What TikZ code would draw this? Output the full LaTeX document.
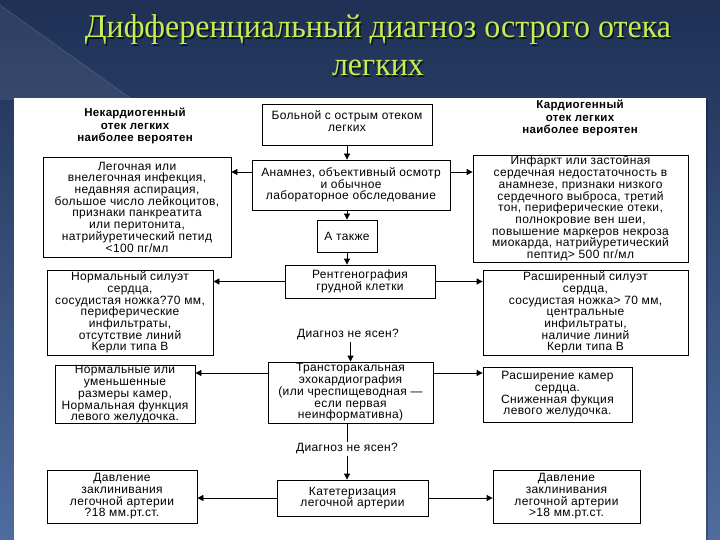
\documentclass[tikz,border=0pt]{standalone}
\usepackage{fontspec}
\usepackage{graphicx}
\setmainfont{Liberation Sans}
\newfontfamily\boxfont[LetterSpace=3]{Liberation Sans}
\newfontfamily\titlefont{Liberation Serif}
\usetikzlibrary{arrows.meta,calc}
\newcommand\boxtxt{\boxfont\fontsize{12}{11.7}\selectfont}
\newcommand\hdrtxt{\boxfont\bfseries\fontsize{11.5}{12.5}\selectfont}
\newcommand\ttltxt{\titlefont\fontsize{33}{36}\selectfont}
\definecolor{bgtop}{RGB}{30,48,84}
\definecolor{bgbot}{RGB}{78,108,158}
\definecolor{ttlgreen}{RGB}{200,236,84}
\definecolor{ttlshadow}{RGB}{10,20,30}
\begin{document}
\begin{tikzpicture}[x=1pt,y=-1pt,
  box/.style={draw=black, line width=0.8pt, align=center, inner sep=0pt, font=\boxtxt, fill=white},
  arr/.style={line width=0.8pt, -{Triangle[length=6pt,width=6pt]}},
  ln/.style={line width=0.8pt},
  hdr/.style={align=center, font=\hdrtxt, inner sep=0pt},
  lbl/.style={font=\boxtxt, inner sep=1pt, fill=white},
  ttl/.style={font=\ttltxt, inner sep=0pt}]
\useasboundingbox (0,0) rectangle (720,540);
% background
\shade[top color=bgtop, bottom color=bgbot] (0,0) rectangle (720,540);
\fill[white, opacity=0.07] (0,5) -- (133,100) -- (0,100) -- cycle;
\draw[white, opacity=0.15, line width=0.6pt] (0,5) -- (133,100);
% panel
\fill[black, opacity=0.25] (16,100) rectangle (708,540);
\fill[white] (14,98) rectangle (706,540);
% title
\node[ttl, text=ttlshadow] at (379.5,31.5) {\scalebox{0.97}[1]{Дифференциальный диагноз острого отека}};
\node[ttl, text=ttlgreen] (t1) at (378,30) {\scalebox{0.97}[1]{Дифференциальный диагноз острого отека}};
\node[ttl, text=ttlshadow] at (379.5,69.5) {\scalebox{0.97}[1]{легких}};
\node[ttl, text=ttlgreen] (t2) at (378,68) {\scalebox{0.97}[1]{легких}};
% headers
\node[hdr] (hL) at (135,126) {Некардиогенный\\отек легких\\наиболее вероятен};
\node[hdr] (hR) at (580,118) {Кардиогенный\\отек легких\\наиболее вероятен};
% center column
\node[box, minimum width=170, minimum height=41] (top) at (347,124.5) {Больной с острым отеком\\легких\\[-5pt]\mbox{}};
\node[box, minimum width=198, minimum height=50] (anam) at (351,185) {Анамнез, объективный осмотр\\и обычное\\лабораторное обследование};
\node[box, minimum width=60, minimum height=32] (also) at (347,236) {А также};
\node[box, minimum width=150, minimum height=33] (xray) at (360,281.5) {Рентгенография\\грудной клетки};
\node[lbl] (q1) at (348,335) {Диагноз не ясен?};
\node[box, minimum width=165, minimum height=61] (echo) at (350.5,392.5) {Трансторакальная\\эхокардиография\\(или чреспищеводная —\\если первая\\неинформативна)};
\node[lbl] (q2) at (347,449) {Диагноз не ясен?};
\node[box, minimum width=151, minimum height=36] (cath) at (352.5,498) {Катетеризация\\легочной артерии};
% left column
\node[box, minimum width=188, minimum height=100] (lA) at (137,207) {Легочная или\\внелегочная инфекция,\\недавняя аспирация,\\большое число лейкоцитов,\\признаки панкреатита\\или перитонита,\\натрийуретический петид\\<100 пг/мл};
\node[box, minimum width=166, minimum height=85] (lB) at (130,312.5) {Нормальный силуэт\\сердца,\\сосудистая ножка?70 мм,\\периферические\\инфильтраты,\\отсутствие линий\\Керли типа B};
\node[box, minimum width=140, minimum height=55] (lC) at (125,394.5) {Нормальные или\\уменьшенные\\размеры камер,\\Нормальная функция\\левого желудочка.};
\node[box, minimum width=150, minimum height=53] (lD) at (122,496.5) {Давление\\заклинивания\\легочной артерии\\?18 мм.рт.ст.};
% right column
\node[box, minimum width=215, minimum height=107] (rA) at (580.5,208.5) {Инфаркт или застойная\\сердечная недостаточность в\\анамнезе, признаки низкого\\сердечного выброса, третий\\тон, периферические отеки,\\полнокровие вен шеи,\\повышение маркеров некроза\\миокарда, натрийуретический\\пептид> 500 пг/мл};
\node[box, minimum width=205, minimum height=85] (rB) at (585.5,312.5) {Расширенный силуэт\\сердца,\\сосудистая ножка> 70 мм,\\центральные\\инфильтраты,\\наличие линий\\Керли типа B};
\node[box, minimum width=149, minimum height=55] (rC) at (557.5,394.5) {Расширение камер\\сердца.\\Сниженная фукция\\левого желудочка.};
\node[box, minimum width=147, minimum height=53] (rD) at (566.5,496.5) {Давление\\заклинивания\\легочной артерии\\>18 мм.рт.ст.};
% connectors
\draw[arr] (top.south) -- (top.south |- anam.north);
\draw[arr] (also.north |- anam.south) -- (also.north);
\draw[arr] (also.south) -- (also.south |- xray.north);
\draw[arr] (anam.west |- 0,172) -- (lA.east |- 0,172);
\draw[arr] (anam.east |- 0,172) -- (rA.west |- 0,172);
\draw[arr] (xray.west) -- (lB.east |- xray.west);
\draw[arr] (xray.east) -- (rB.west |- xray.east);
\draw[arr] (q1.south -| echo.north) -- (echo.north);
\draw[arr] (echo.west |- 0,373) -- (lC.east |- 0,373);
\draw[arr] (echo.east |- 0,373) -- (rC.west |- 0,373);
\draw[ln] (q2.north |- echo.south) -- (q2.north);
\draw[arr] (q2.south) -- (q2.south |- cath.north);
\draw[arr] (cath.west) -- (lD.east |- cath.west);
\draw[arr] (cath.east) -- (rD.west |- cath.east);
\end{tikzpicture}
\end{document}
